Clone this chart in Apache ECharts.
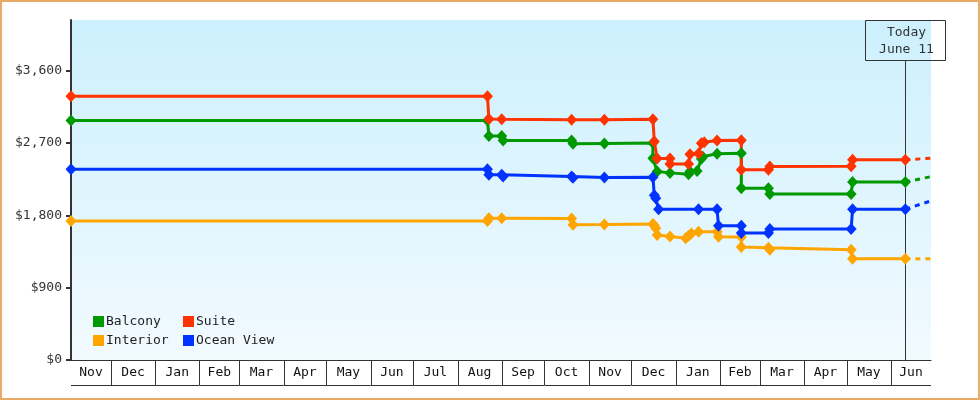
<!DOCTYPE html>
<html>
<head>
<meta charset="utf-8">
<script src="https://cdn.jsdelivr.net/npm/echarts@6/dist/echarts.min.js"></script>
<style>html,body{margin:0;padding:0;background:#fff}#c{width:980px;height:400px}</style>
</head>
<body>
<div id="c"></div>
<script>
// ---------- data ----------
const seriesNames = ['Balcony', 'Suite', 'Interior', 'Ocean View'];

const balcony = [
  ['2012-11-03', 2980], ['2013-08-22', 2980], ['2013-08-23', 2788], ['2013-09-01', 2788],
  ['2013-09-02', 2730], ['2013-10-20', 2730], ['2013-10-21', 2690], ['2013-11-12', 2695],
  ['2013-12-16', 2700], ['2013-12-16', 2511], ['2013-12-19', 2345], ['2013-12-28', 2328],
  ['2014-01-10', 2310], ['2014-01-11', 2345], ['2014-01-16', 2350], ['2014-01-19', 2505],
  ['2014-01-20', 2530], ['2014-01-30', 2565], ['2014-02-16', 2573], ['2014-02-16', 2138],
  ['2014-03-07', 2138], ['2014-03-08', 2064], ['2014-05-04', 2064], ['2014-05-05', 2213],
  ['2014-06-11', 2213]
];
const suite = [
  ['2012-11-03', 3282], ['2013-08-22', 3282], ['2013-08-23', 2999], ['2013-09-01', 2995],
  ['2013-10-20', 2990], ['2013-11-12', 2990], ['2013-12-16', 2995], ['2013-12-17', 2718],
  ['2013-12-19', 2508], ['2013-12-28', 2508], ['2013-12-28', 2440], ['2014-01-10', 2440],
  ['2014-01-11', 2560], ['2014-01-17', 2570], ['2014-01-19', 2698], ['2014-01-21', 2708],
  ['2014-01-30', 2730], ['2014-02-16', 2735], ['2014-02-16', 2366], ['2014-03-07', 2366],
  ['2014-03-08', 2408], ['2014-05-04', 2412], ['2014-05-05', 2490], ['2014-06-11', 2490]
];
const interior = [
  ['2012-11-03', 1728], ['2013-08-22', 1728], ['2013-08-23', 1763], ['2013-09-01', 1763],
  ['2013-10-20', 1760], ['2013-10-21', 1682], ['2013-11-12', 1686], ['2013-12-16', 1693],
  ['2013-12-17', 1672], ['2013-12-18', 1640], ['2013-12-19', 1555], ['2013-12-28', 1537],
  ['2014-01-08', 1515], ['2014-01-10', 1545], ['2014-01-12', 1575], ['2014-01-17', 1595],
  ['2014-01-30', 1595], ['2014-01-31', 1533], ['2014-02-16', 1530], ['2014-02-16', 1405],
  ['2014-03-07', 1395], ['2014-03-08', 1371], ['2014-05-04', 1371], ['2014-05-05', 1259],
  ['2014-06-11', 1259]
];
const oceanView = [
  ['2012-11-03', 2374], ['2013-08-22', 2374], ['2013-08-23', 2304], ['2013-09-01', 2304],
  ['2013-09-02', 2282], ['2013-10-20', 2282], ['2013-10-21', 2266], ['2013-11-12', 2270],
  ['2013-12-16', 2275], ['2013-12-17', 2050], ['2013-12-18', 2012], ['2013-12-20', 1877],
  ['2014-01-17', 1877], ['2014-01-30', 1875], ['2014-01-31', 1670], ['2014-02-16', 1670],
  ['2014-02-16', 1579], ['2014-03-07', 1579], ['2014-03-08', 1629], ['2014-05-04', 1629],
  ['2014-05-05', 1877], ['2014-06-11', 1877]
];
// projected (dashed) continuation after today
const balconyProj  = [['2014-06-11', 2213], ['2014-06-29', 2282]];
const suiteProj    = [['2014-06-11', 2490], ['2014-06-29', 2511]];
const interiorProj = [['2014-06-11', 1259], ['2014-06-29', 1259]];
const oceanProj    = [['2014-06-11', 1877], ['2014-06-29', 1980]];

const monthStarts = ['2012-11-01','2012-12-01','2013-01-01','2013-02-01','2013-03-01','2013-04-01',
  '2013-05-01','2013-06-01','2013-07-01','2013-08-01','2013-09-01','2013-10-01','2013-11-01',
  '2013-12-01','2014-01-01','2014-02-01','2014-03-01','2014-04-01','2014-05-01','2014-06-01','2014-07-01'];
const monthLabels = ['Nov','Dec','Jan','Feb','Mar','Apr','May','Jun','Jul','Aug','Sep','Oct','Nov',
  'Dec','Jan','Feb','Mar','Apr','May','Jun'];
const yTicks = [0, 900, 1800, 2700, 3600];
const xStart = '2012-11-03', xEnd = '2014-06-29';
const yMax = 4230;
const todayDate = '2014-06-11';
const todayLabel = ['Today', 'June 11'];

// ---------- helpers ----------
function ts(s) { const p = s.split('-').map(Number); return new Date(p[0], p[1] - 1, p[2]).getTime(); }
const conv = arr => arr.map(d => [ts(d[0]), d[1]]);
const xMinTs = ts(xStart), xMaxTs = ts(xEnd);
const FONT = '"DejaVu Sans Mono", "Liberation Mono", monospace';
const colors = { 'Balcony': '#009900', 'Suite': '#ff3300', 'Interior': '#ffa500', 'Ocean View': '#0033ff' };
const fmt = v => '$' + String(v).replace(/\B(?=(\d{3})+(?!\d))/g, ',');

function lineSeries(name, data) {
  return {
    name, type: 'line', data: conv(data), z: 3,
    symbol: 'diamond', symbolSize: [11, 12], showAllSymbol: true, clip: false,
    itemStyle: { color: colors[name] },
    lineStyle: { color: colors[name], width: 3 },
    emphasis: { disabled: true }
  };
}
function projSeries(name, data) {
  return {
    name, type: 'line', data: conv(data), z: 2, symbol: 'none', clip: false,
    itemStyle: { color: colors[name] },
    lineStyle: { color: colors[name], width: 3, type: [5, 5] },
    emphasis: { disabled: true }
  };
}

const monthData = monthLabels.map((m, i) => [ts(monthStarts[i]), ts(monthStarts[i + 1])]);

const legendBase = {
  orient: 'vertical', top: 310, icon: 'rect', itemWidth: 11, itemHeight: 11, itemGap: 6,
  textStyle: { fontFamily: FONT, fontSize: 13, color: '#222', padding: [0, 0, 0, -3] }
};

const chart = echarts.init(document.getElementById('c'), null, { renderer: 'canvas' });
chart.setOption({
  animation: false,
  backgroundColor: '#ffffff',
  textStyle: { fontFamily: FONT },
  grid: {
    left: 71, top: 20, right: 49, bottom: 40, show: true, borderWidth: 0,
    backgroundColor: { type: 'linear', x: 0, y: 0, x2: 0, y2: 1,
      colorStops: [{ offset: 0, color: '#ccf0fd' }, { offset: 1, color: '#f2faff' }] }
  },
  graphic: [{
    type: 'rect', silent: true, z: 100,
    shape: { x: 1, y: 1, width: 978, height: 398 },
    style: { fill: null, stroke: '#e9ab68', lineWidth: 2 }
  }],
  legend: [
    Object.assign({ data: ['Balcony', 'Interior'], left: 88 }, legendBase),
    Object.assign({ data: ['Suite', 'Ocean View'], left: 178 }, legendBase)
  ],
  xAxis: {
    type: 'time', min: xMinTs, max: xMaxTs,
    axisLine: { show: true, lineStyle: { color: '#333', width: 1 } },
    axisTick: { show: false }, axisLabel: { show: false }, splitLine: { show: false }
  },
  yAxis: {
    type: 'value', min: 0, max: yMax,
    axisLine: { show: true, lineStyle: { color: '#333', width: 2 } },
    axisTick: { show: true, length: 5, lineStyle: { color: '#333', width: 2 }, customValues: yTicks },
    axisLabel: { customValues: yTicks, formatter: fmt, color: '#333', fontFamily: FONT, fontSize: 13, margin: 9 },
    splitLine: { show: false }
  },
  series: [
    projSeries('Balcony', balconyProj),
    projSeries('Suite', suiteProj),
    projSeries('Interior', interiorProj),
    projSeries('Ocean View', oceanProj),
    lineSeries('Balcony', balcony),
    lineSeries('Suite', suite),
    lineSeries('Interior', interior),
    lineSeries('Ocean View', oceanView),
    {
      name: 'months', type: 'custom', clip: false, silent: true, z: 5,
      encode: { x: [0, 1] },
      data: monthData,
      renderItem: function (params, api) {
        const i = params.dataIndex;
        const s0 = api.value(0), e0 = api.value(1);
        const s = Math.max(s0, xMinTs), e = Math.min(e0, xMaxTs);
        const p0 = api.coord([s, 0]), p1 = api.coord([e, 0]);
        const y0 = Math.round(p0[1]);
        const children = [];
        if (s0 > xMinTs) {
          const x = Math.round(p0[0]) + 0.5;
          children.push({ type: 'line', shape: { x1: x, y1: y0, x2: x, y2: y0 + 25 },
            style: { stroke: '#333', lineWidth: 1 } });
        }
        children.push({ type: 'line', shape: { x1: p0[0], y1: y0 + 25.5, x2: p1[0], y2: y0 + 25.5 },
          style: { stroke: '#333', lineWidth: 1 } });
        children.push({ type: 'text', style: { text: monthLabels[i], x: (p0[0] + p1[0]) / 2, y: y0 + 13,
          align: 'center', verticalAlign: 'middle', fill: '#111', font: '13px ' + FONT } });
        return { type: 'group', children };
      }
    },
    {
      name: 'today', type: 'custom', clip: false, silent: true, z: 1,
      encode: { x: 0 },
      data: [[ts(todayDate)]],
      renderItem: function (params, api) {
        const p = api.coord([api.value(0), 0]);
        const x = Math.round(p[0]) + 0.5;
        const top = params.coordSys.y;
        return { type: 'group', children: [
          { type: 'line', shape: { x1: x, y1: p[1], x2: x, y2: top + 40 }, style: { stroke: '#333', lineWidth: 1 } },
          { type: 'rect', shape: { x: x - 40, y: top + 0.5, width: 80, height: 40 }, style: { fill: null, stroke: '#333', lineWidth: 1 } },
          { type: 'text', style: { text: todayLabel.join('\n'), x: x + 1, y: top + 21, align: 'center', verticalAlign: 'middle',
            lineHeight: 17, fill: '#333', font: '13px ' + FONT } }
        ] };
      }
    }
  ]
});
</script>
</body>
</html>
